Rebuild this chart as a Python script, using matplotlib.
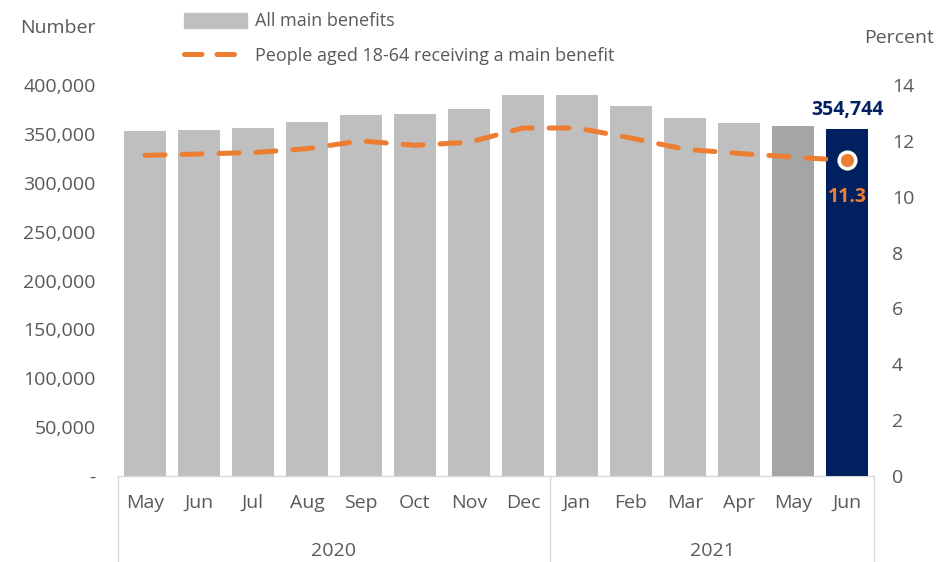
import numpy as np
import matplotlib.pyplot as plt
from matplotlib.patches import Patch
from matplotlib.lines import Line2D

months = ['May', 'Jun', 'Jul', 'Aug', 'Sep', 'Oct', 'Nov', 'Dec',
          'Jan', 'Feb', 'Mar', 'Apr', 'May', 'Jun']
years = ['2020', '2021']
year_sizes = [8, 6]
benefits = [353000, 354000, 356000, 362000, 369000, 370000, 375000, 390000,
            390000, 378500, 366000, 361000, 358000, 354744]
pct = [11.48, 11.53, 11.58, 11.72, 12.0, 11.84, 11.95, 12.46,
       12.46, 12.1, 11.7, 11.55, 11.42, 11.3]

plt.rcParams['font.family'] = ['Open Sans', 'DejaVu Sans']
txt = '#595959'
grey = '#BFBFBF'
orange = '#ED7D31'
navy = '#002060'

fig = plt.figure(figsize=(9.36, 5.62), dpi=100)
ax = fig.add_axes([118/936, 1-476/562, (874-118)/936, (476-85)/562])
ax2 = ax.twinx()

x = np.arange(len(months))
colors = [grey]*12 + ['#A5A5A5', navy]
ax.bar(x, benefits, width=0.78, color=colors, zorder=2)
ax.set_xlim(-0.5, len(months)-0.5)
ax.set_ylim(0, 400000)
ax.set_yticks(np.arange(0, 400001, 50000))
ax.set_yticklabels(['-'] + ['{:,}'.format(v) for v in range(50000, 400001, 50000)])
ax.set_xticks(x)
ax.set_xticklabels(months)
ax.tick_params(axis='both', length=0, labelsize=14, colors=txt)
ax.tick_params(axis='y', pad=16)
ax.tick_params(axis='x', pad=13)

ax2.plot(x, pct, color=orange, lw=3.6, ls=(0, (4, 3.4)), dash_capstyle='round', zorder=3)
ax2.plot(x[-1], pct[-1], 'o', ms=12, mfc=orange, mec='white', mew=2.5, zorder=4)
ax2.set_ylim(0, 14)
ax2.set_yticks(np.arange(0, 15, 2))
ax2.tick_params(axis='y', length=0, labelsize=14, colors=txt, pad=13)

for a in (ax, ax2):
    for s in a.spines.values():
        s.set_visible(False)

# category box under the axis
lc = '#D9D9D9'
ax.plot([-0.5, len(months)-0.5], [0, 0], color=lc, lw=1, clip_on=False, zorder=1)
start = -0.5
bounds = [start]
for n in year_sizes:
    start += n
    bounds.append(start)
for b in bounds:
    ax.plot([b, b], [0, -88000], color=lc, lw=1, clip_on=False)
for i, y in enumerate(years):
    ax.text((bounds[i] + bounds[i+1]) / 2, -77000, y, ha='center', va='center',
            fontsize=14, color=txt)

ax.text(x[-1], benefits[-1] + 9000, '{:,}'.format(benefits[-1]), ha='center',
        va='bottom', fontsize=14, fontweight='bold', color=navy)
ax2.text(x[-1], pct[-1] - 0.95, '{:.1f}'.format(pct[-1]), ha='center', va='top',
         fontsize=14, fontweight='bold', color=orange)

fig.text(20/936, 1-28/562, 'Number', fontsize=14, color=txt, va='center')
fig.text(934/936, 1-38/562, 'Percent', fontsize=14, color=txt, va='center', ha='right')

handles = [Patch(color=grey), Line2D([], [], color=orange, lw=3.6, ls=(0, (3.5, 3)),
                                     dash_capstyle='round')]
fig.legend(handles, ['All main benefits', 'People aged 18-64 receiving a main benefit'],
           loc='upper left', bbox_to_anchor=(168/936, 1+4/562), frameon=False,
           fontsize=13, labelcolor=txt, handlelength=3.5, handleheight=0.9,
           labelspacing=0.9, handletextpad=0.4)

fig.savefig('out.png', dpi=100)
